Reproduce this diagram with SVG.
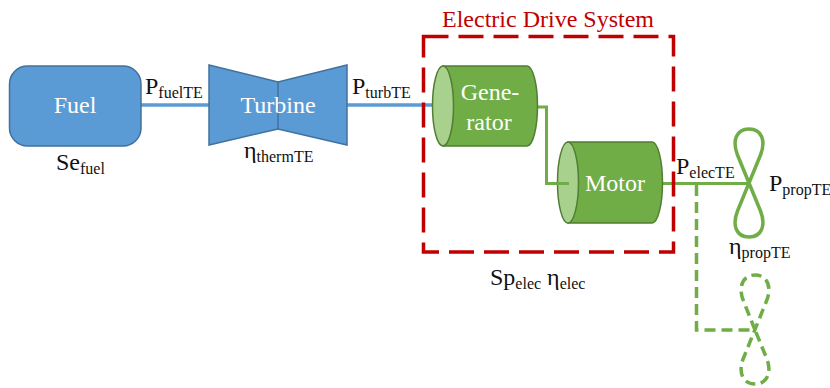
<svg xmlns="http://www.w3.org/2000/svg" width="830" height="388" viewBox="0 0 830 388">
<style>
text{font-family:"Liberation Serif","Times New Roman",serif;fill:#111}
.m{font-size:24px}
.s{font-size:16px}
.w{font-size:24px;fill:#fff;text-anchor:middle}
.blue{fill:#5b9bd5;stroke:#41719c;stroke-width:1.5}
.green{fill:#70ad47;stroke:#507e32;stroke-width:1.5}
.lid{fill:#a9d18e;stroke:#507e32;stroke-width:1.5}
.bl{fill:none;stroke:#5b9bd5;stroke-width:3.5}
.gl{fill:none;stroke:#70ad47;stroke-width:3}
.gd{fill:none;stroke:#70ad47;stroke-width:3.5;stroke-dasharray:11 6}
</style>
<g id="connectors">
<path class="bl" d="M141 105H209M347 105H433"/>
<path class="gl" d="M537 107H546.500V183.500H569"/>
<path class="gl" d="M662 183.500H749"/>
<path class="gd" d="M696.500 185V330H755"/>
</g>
<g id="fuel">
<rect class="blue" x="9.500" y="66" width="131.500" height="80" rx="18"/>
<text class="w" x="75" y="113">Fuel</text>
</g>
<g id="turbine">
<path class="blue" d="M209 65L278 82L347 65V145L278 129L209 145Z"/>
<path d="M278 82V129" fill="none" stroke="#41719c" stroke-width="1.500"/>
<text class="w" x="278" y="113">Turbine</text>
</g>
<g id="generator">
<path class="green" d="M443 66H527A10.500 40 0 0 1 527 146H443Z"/>
<ellipse class="lid" cx="443" cy="106" rx="10.500" ry="40"/>
<text class="w" x="490" y="100">Gene-</text>
<text class="w" x="489" y="130">rator</text>
</g>
<g id="motor">
<path class="green" d="M568 142H652A10.500 40.500 0 0 1 652 223H568Z"/>
<ellipse class="lid" cx="568" cy="182.500" rx="10.500" ry="40.500"/>
<path d="M557 183.500H569" class="gl"/>
<text class="w" x="615" y="191">Motor</text>
</g>
<g id="electric-drive-system">
<rect x="423.500" y="36.500" width="250" height="215.500" fill="none" stroke="#c00000" stroke-width="3.500" stroke-dasharray="25 10"/>
<text x="548" y="27" text-anchor="middle" style="font-size:24px;fill:#c00000">Electric Drive System</text>
</g>
<g id="propeller">
<path fill="none" stroke="#70ad47" stroke-width="3.500" d="M749 183L737.500 155C732 141 736 129 749 129C762 129 766 141 760.500 155L737.500 211C732 225 736 237 749 237C762 237 766 225 760.500 211Z"/>
</g>
<g id="propeller-dashed">
<path fill="none" stroke="#70ad47" stroke-width="3.500" stroke-dasharray="10 5.500" d="M755 330L743.500 301C738 288 742 275 755 275C768 275 772 288 766.500 301L743.500 358C738 371 742 384 755 384C768 384 772 371 766.500 358Z"/>
</g>
<g id="labels">
<text class="m" x="145" y="94">P<tspan class="s" dy="4">fuelTE</tspan></text>
<text class="m" x="352" y="94">P<tspan class="s" dy="4">turbTE</tspan></text>
<text class="m" x="676" y="174">P<tspan class="s" dy="4">elecTE</tspan></text>
<text class="m" x="769" y="191">P<tspan class="s" dy="4">propTE</tspan></text>
<text class="m" x="56" y="170">Se<tspan class="s" dy="4">fuel</tspan></text>
<text class="m" x="244" y="158">η<tspan class="s" dy="4">thermTE</tspan></text>
<text class="m" x="729" y="254">η<tspan class="s" dy="4">propTE</tspan></text>
<text class="m" x="490" y="285">Sp<tspan class="s" dy="4">elec</tspan><tspan dy="-4"> η</tspan><tspan class="s" dy="4">elec</tspan></text>
</g>
</svg>
